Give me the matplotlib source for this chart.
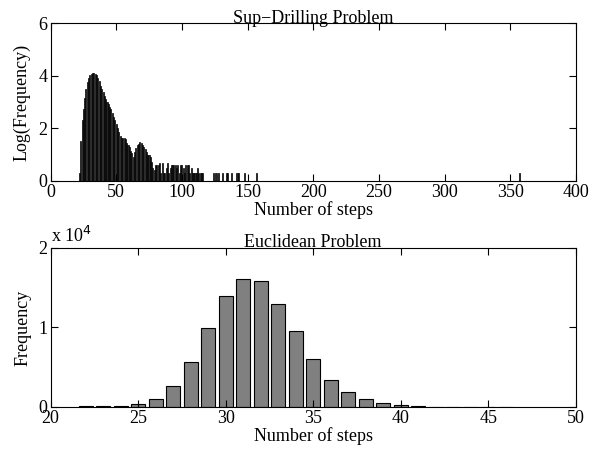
import numpy as np
import matplotlib.pyplot as plt
from matplotlib.ticker import FuncFormatter

plt.rcParams['font.family'] = ['Liberation Serif', 'DejaVu Serif']
plt.rcParams['font.size'] = 13

# sup-drilling: number of steps vs log10(frequency)
sd_steps = list(range(22, 117)) + [124, 126, 128, 131, 134, 135, 138, 142, 143, 148, 157, 357]
sd_logf = [0.3, 1.5, 2.3, 2.75, 3.15, 3.5, 3.75, 3.92, 4.02, 4.07,
           4.1, 4.1, 4.08, 4.02, 3.92, 3.78, 3.62, 3.5, 3.38, 3.22,
           3.12, 3.0, 2.92, 2.82, 2.72, 2.58, 2.42, 2.3, 2.15, 2.02,
           1.85, 1.72, 1.65, 1.62, 1.62, 1.58, 1.43, 1.37, 1.3, 1.15,
           1.05, 0.92, 1.1, 1.25, 1.35, 1.42, 1.47, 1.45, 1.35, 1.28,
           1.22, 1.11, 1.0, 0.98, 0.9, 0.72, 0.48, 0.43, 0.6, 0.6,
           0.6, 0.7, 0.3, 0.7, 0.3, 0.3, 0.48, 0.7, 0.3, 0.48,
           0.6, 0.6, 0.6, 0.6, 0.48, 0.6, 0.3, 0.6, 0.6, 0.48,
           0.3, 0.6, 0.6, 0.6, 0.3, 0.48, 0.3, 0.3, 0.3, 0.3,
           0.48, 0.3, 0.3, 0.3, 0.3,
           0.3, 0.3, 0.3, 0.3, 0.3, 0.3, 0.3, 0.3, 0.3, 0.3, 0.3, 0.3]

# euclidean: number of steps vs frequency
eu_steps = list(range(22, 47))
eu_freq = [100, 100, 150, 340, 1060, 2700, 5600, 9900, 13900, 16100,
           15900, 13000, 9550, 6000, 3370, 1860, 1060, 470, 200, 80,
           60, 50, 50, 50, 30]

fig = plt.figure(figsize=(5.9, 4.51), dpi=100)
ax1 = fig.add_axes([0.0856, 0.5987, 0.8905, 0.3503])
ax2 = fig.add_axes([0.0856, 0.0976, 0.8905, 0.3527])

ax1.bar(sd_steps, sd_logf, width=0.8, color='0.15', edgecolor='black', linewidth=0.5)
ax1.set_xlim(0, 400)
ax1.set_ylim(0, 6)
ax1.set_xticks(np.arange(0, 401, 50))
ax1.set_yticks([0, 2, 4, 6])
ax1.set_xlabel('Number of steps', labelpad=0)
ax1.set_ylabel('Log(Frequency)', labelpad=6)
ax1.set_title('Sup\u2212Drilling Problem', fontsize=13, pad=0)

ax2.bar(eu_steps, eu_freq, width=0.8, color='0.5', edgecolor='black', linewidth=0.8)
ax2.set_xlim(20, 50)
ax2.set_ylim(0, 20000)
ax2.set_xticks(np.arange(20, 51, 5))
ax2.set_yticks([0, 10000, 20000])
ax2.yaxis.set_major_formatter(FuncFormatter(lambda v, p: '%g' % (v / 1e4)))
ax2.text(0.0, 1.015, 'x 10$^4$', transform=ax2.transAxes, ha='left', va='bottom')
ax2.set_xlabel('Number of steps', labelpad=0)
ax2.set_ylabel('Frequency', labelpad=5)
ax2.set_title('Euclidean Problem', fontsize=13, pad=1)

for ax in (ax1, ax2):
    ax.tick_params(direction='in', top=True, right=True, length=5, width=0.8, pad=2)
    for s in ax.spines.values():
        s.set_linewidth(0.8)

fig.savefig('out.png', dpi=100)
